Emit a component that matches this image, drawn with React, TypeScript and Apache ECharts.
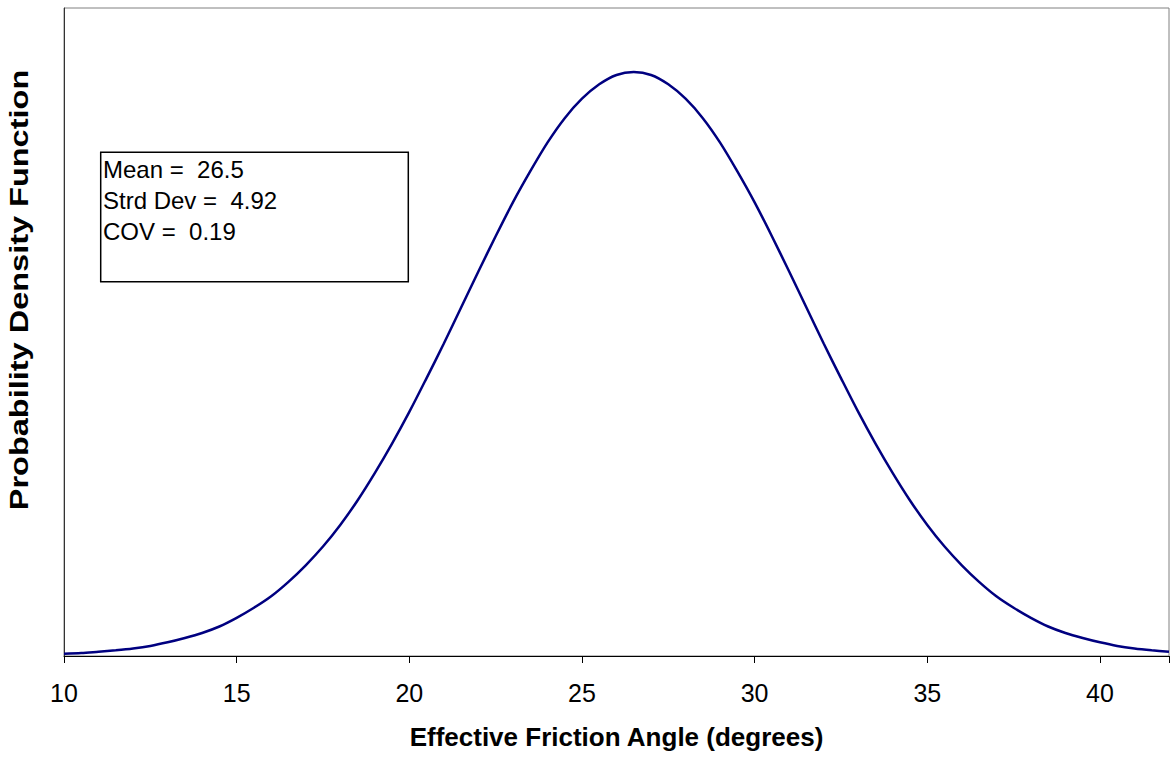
import React, { useEffect, useRef } from "react";
import * as echarts from "echarts";

// Effective friction angle (degrees) sample points
const angles = [
  10, 10.5, 11, 11.5, 12, 12.5, 13, 13.5, 14, 14.5, 15, 15.5, 16, 16.5, 17, 17.5,
  18, 18.5, 19, 19.5, 20, 20.5, 21, 21.5, 22, 22.5, 23, 23.5, 24, 24.5, 25, 25.5,
  26, 26.5, 27, 27.5, 28, 28.5, 29, 29.5, 30, 30.5, 31, 31.5, 32, 32.5, 33, 33.5,
  34, 34.5, 35, 35.5, 36, 36.5, 37, 37.5, 38, 38.5, 39, 39.5, 40, 40.5, 41, 41.5, 42,
];

// Probability density
const density = [
  0.0003, 0.0004, 0.0006, 0.0008, 0.00105, 0.0014, 0.0019, 0.0025, 0.0032, 0.0041,
  0.0053, 0.0067, 0.0083, 0.0103, 0.0126, 0.0152, 0.0182, 0.0216, 0.0254, 0.0295,
  0.0339, 0.0386, 0.0434, 0.0484, 0.0534, 0.0583, 0.063, 0.0673, 0.0713, 0.0747,
  0.0774, 0.0794, 0.0807, 0.0811, 0.0807, 0.0794, 0.0774, 0.0747, 0.0713, 0.0673,
  0.063, 0.0583, 0.0534, 0.0484, 0.0434, 0.0386, 0.0339, 0.0295, 0.0254, 0.0216,
  0.0182, 0.0152, 0.0126, 0.0103, 0.0083, 0.0067, 0.0053, 0.0041, 0.0032, 0.0025,
  0.0019, 0.0014, 0.00105, 0.0008, 0.0006,
];

const statsLines = ["Mean =  26.5", "Strd Dev =  4.92", "COV =  0.19"];

const xAxisTitle = "Effective Friction Angle (degrees)";
const yAxisTitle = "Probability Density Function";

const FONT = '"Liberation Sans", Arial, Helvetica, sans-serif';

export default function App() {
  const ref = useRef<HTMLDivElement>(null);

  useEffect(() => {
    if (!ref.current) return;
    const chart = echarts.init(ref.current, undefined, { renderer: "svg" });
    const data = angles.map((a, i) => [a, density[i]]);

    const lineY = [169.5, 200.5, 231];

    chart.setOption({
      animation: false,
      backgroundColor: "#ffffff",
      grid: {
        left: 64,
        top: 8,
        width: 1111.7,
        height: 648,
        show: true,
        borderColor: "#808080",
        borderWidth: 1,
        backgroundColor: "transparent",
      },
      xAxis: {
        type: "value",
        min: 10,
        max: 42,
        interval: 5,
        axisLine: { show: true, onZero: false, lineStyle: { color: "#000000", width: 1 } },
        axisTick: { show: true, length: 7, inside: false, lineStyle: { color: "#000000", width: 1 } },
        axisLabel: {
          show: true,
          margin: 24,
          fontSize: 25,
          fontFamily: FONT,
          color: "#000000",
          formatter: (v: number) => (v % 5 === 0 ? String(v) : ""),
        },
        splitLine: { show: false },
        name: xAxisTitle,
        nameLocation: "middle",
        nameGap: 68,
        nameTextStyle: {
          fontSize: 26,
          fontWeight: "bold",
          fontFamily: FONT,
          color: "#000000",
        },
      },
      yAxis: {
        type: "value",
        min: 0,
        max: 0.09,
        axisLine: { show: true, lineStyle: { color: "#333333", width: 1 } },
        axisTick: { show: false },
        axisLabel: { show: false },
        splitLine: { show: false },
      },
      series: [
        {
          type: "line",
          data,
          smooth: 0.3,
          showSymbol: false,
          symbol: "none",
          clip: true,
          lineStyle: { color: "#000080", width: 2.5 },
        },
      ],
      graphic: [
        {
          type: "rect",
          shape: { x: 100.7, y: 152.3, width: 307.6, height: 129.4 },
          style: { fill: "#ffffff", stroke: "#000000", lineWidth: 1.5 },
          z: 10,
        },
        ...statsLines.map((t, i) => ({
          type: "text",
          x: 103,
          y: lineY[i],
          z: 11,
          style: {
            text: t,
            fontSize: 24,
            fontFamily: FONT,
            fill: "#000000",
            align: "left",
            verticalAlign: "middle",
          },
        })),
        {
          type: "text",
          x: 19,
          y: 290,
          rotation: Math.PI / 2,
          scaleX: 1.3,
          z: 11,
          style: {
            text: yAxisTitle,
            fontSize: 25,
            fontWeight: "bold",
            fontFamily: FONT,
            fill: "#000000",
            align: "center",
            verticalAlign: "middle",
          },
        },
      ],
    });

    return () => chart.dispose();
  }, []);

  return (
    <div
      ref={ref}
      style={{
        position: "fixed",
        left: 0,
        top: 0,
        width: 1172,
        height: 758,
        overflow: "hidden",
        background: "#ffffff",
      }}
    />
  );
}
